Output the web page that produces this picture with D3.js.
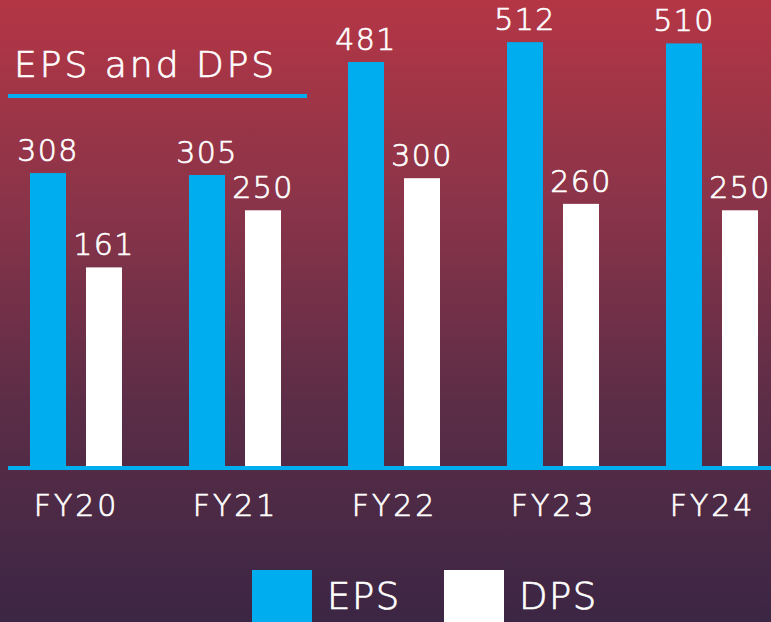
<!DOCTYPE html>
<html>
<head>
<meta charset="utf-8">
<script src="https://cdn.jsdelivr.net/npm/d3@7"></script>
<style>
  html, body { margin: 0; padding: 0; background: #3b2644; }
  svg { display: block; }
  text { font-family: "DejaVu Sans", sans-serif; font-weight: 200; fill: #ffffff; stroke: #ffffff; stroke-width: 0.7px; }
</style>
</head>
<body>
<svg id="chart" width="771" height="622"></svg>
<script>
// ---- data ----
const categories = ["FY20", "FY21", "FY22", "FY23", "FY24"];
const seriesNames = ["EPS", "DPS"];
const epsValues = [308, 305, 481, 512, 510];
const dpsValues = [161, 250, 300, 260, 250];
const titleText = "EPS and DPS";

const seriesColors = { EPS: "#00adee", DPS: "#ffffff" };
const seriesValues = { EPS: epsValues, DPS: dpsValues };

const W = 771, H = 622;
const svg = d3.select("#chart");

// background gradient
const defs = svg.append("defs");
const grad = defs.append("linearGradient").attr("id", "bg")
  .attr("x1", 0).attr("y1", 0).attr("x2", 0).attr("y2", 1);
[[0, "#b43645"], [0.33, "#8a3449"], [0.65, "#5c2d47"], [1, "#3b2644"]]
  .forEach(([o, c]) => grad.append("stop").attr("offset", o).attr("stop-color", c));
svg.append("rect").attr("width", W).attr("height", H).attr("fill", "url(#bg)");

// scales
const baseY = 467;
const x0 = d3.scalePoint().domain(categories).range([76, 712]);
const x1 = d3.scaleBand().domain(seriesNames).range([-46, 46])
  .paddingInner(0.357).paddingOuter(0);
const y = d3.scaleLinear().domain([-150, 520]).range([baseY, 37]);

// bars
const rows = categories.map((c, i) => ({
  cat: c,
  vals: seriesNames.map(s => ({ s, v: seriesValues[s][i] }))
}));

const g = svg.append("g");
const groups = g.selectAll("g.grp").data(rows).join("g")
  .attr("class", "grp")
  .attr("transform", d => `translate(${x0(d.cat)},0)`);

groups.selectAll("rect").data(d => d.vals).join("rect")
  .attr("x", d => x1(d.s))
  .attr("width", x1.bandwidth())
  .attr("y", d => y(d.v))
  .attr("height", d => baseY - y(d.v))
  .attr("fill", d => seriesColors[d.s]);

groups.selectAll("text.val").data(d => d.vals).join("text")
  .attr("class", "val")
  .attr("x", d => x1(d.s) + x1.bandwidth() / 2)
  .attr("y", d => y(d.v) - 12)
  .attr("text-anchor", "middle")
  .attr("font-size", 30)
  .attr("letter-spacing", 1.5)
  .text(d => d.v);

// baseline
svg.append("line")
  .attr("x1", 8).attr("x2", W).attr("y1", baseY + 1).attr("y2", baseY + 1)
  .attr("stroke", "#00adee").attr("stroke-width", 4);

// category axis (labels only)
const xAxis = d3.axisBottom(x0).tickSize(0).tickPadding(0);
const axG = svg.append("g").attr("transform", `translate(0,${baseY + 26})`).call(xAxis);
axG.select(".domain").remove();
axG.selectAll("text")
  .attr("font-size", 30)
  .attr("dy", "0.75em")
  .attr("letter-spacing", 3)
  .attr("fill", "#ffffff")
  .style("font-family", "'DejaVu Sans', sans-serif")
  .style("font-weight", 200);

// title
svg.append("text")
  .attr("x", 14).attr("y", 77)
  .attr("font-size", 36)
  .attr("letter-spacing", 3)
  .text(titleText);
svg.append("rect")
  .attr("x", 8).attr("y", 94).attr("width", 299).attr("height", 4)
  .attr("fill", "#00adee");

// legend
const legend = svg.append("g");
const lx = d3.scalePoint().domain(seriesNames).range([252, 444]);
seriesNames.forEach(s => {
  legend.append("rect")
    .attr("x", lx(s)).attr("y", 570).attr("width", 60).attr("height", 52)
    .attr("fill", seriesColors[s])
    .attr("stroke", "none");
  legend.append("text")
    .attr("x", lx(s) + 75).attr("y", 609)
    .attr("font-size", 37)
    .attr("letter-spacing", 1.5)
    .text(s);
});
</script>
</body>
</html>
